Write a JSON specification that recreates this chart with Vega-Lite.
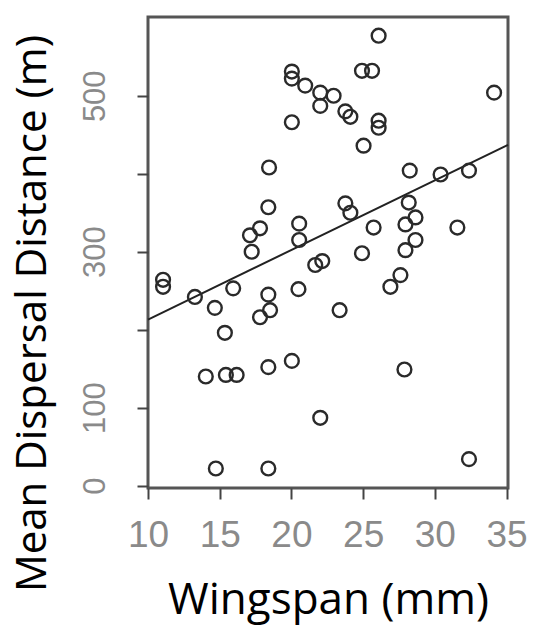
{
  "$schema": "https://vega.github.io/schema/vega-lite/v6.json",
  "autosize": {"type": "none"},
  "width": 360,
  "height": 471,
  "padding": {"left": 148, "top": 17, "right": 27, "bottom": 142},
  "background": "white",
  "config": {
    "view": {"stroke": "#555", "strokeWidth": 3},
    "axis": {"grid": false, "domain": false, "tickColor": "#444", "tickWidth": 2, "tickSize": 11,
             "labelColor": "#8a8a8a", "labelFont": "Liberation Sans", "titleColor": "#000",
             "titleFont": "Open Sans", "titleFontWeight": "normal"}
  },
  "datasets": {
    "pts": [
      {"wingspan": 11.05, "distance": 264}, {"wingspan": 11.05, "distance": 255},
      {"wingspan": 13.27, "distance": 242}, {"wingspan": 14.66, "distance": 228},
      {"wingspan": 15.94, "distance": 253}, {"wingspan": 15.36, "distance": 196},
      {"wingspan": 14.03, "distance": 140}, {"wingspan": 15.43, "distance": 142},
      {"wingspan": 16.18, "distance": 142}, {"wingspan": 14.73, "distance": 22},
      {"wingspan": 17.23, "distance": 300}, {"wingspan": 17.11, "distance": 321},
      {"wingspan": 17.81, "distance": 330}, {"wingspan": 18.44, "distance": 408},
      {"wingspan": 18.39, "distance": 357}, {"wingspan": 18.39, "distance": 245},
      {"wingspan": 18.51, "distance": 225}, {"wingspan": 17.81, "distance": 216},
      {"wingspan": 18.39, "distance": 152}, {"wingspan": 18.39, "distance": 22},
      {"wingspan": 20.03, "distance": 531}, {"wingspan": 20.03, "distance": 522},
      {"wingspan": 20.03, "distance": 466}, {"wingspan": 20.03, "distance": 160},
      {"wingspan": 20.54, "distance": 336}, {"wingspan": 20.54, "distance": 315},
      {"wingspan": 20.49, "distance": 252}, {"wingspan": 20.96, "distance": 513},
      {"wingspan": 22.01, "distance": 504}, {"wingspan": 22.01, "distance": 487},
      {"wingspan": 22.94, "distance": 500}, {"wingspan": 21.66, "distance": 283},
      {"wingspan": 22.15, "distance": 288}, {"wingspan": 22.01, "distance": 87},
      {"wingspan": 23.76, "distance": 480}, {"wingspan": 24.11, "distance": 473},
      {"wingspan": 23.76, "distance": 362}, {"wingspan": 24.11, "distance": 350},
      {"wingspan": 23.36, "distance": 225}, {"wingspan": 24.92, "distance": 532},
      {"wingspan": 25.62, "distance": 532}, {"wingspan": 26.08, "distance": 577},
      {"wingspan": 26.08, "distance": 468}, {"wingspan": 26.08, "distance": 459},
      {"wingspan": 25.03, "distance": 436}, {"wingspan": 25.73, "distance": 331},
      {"wingspan": 24.92, "distance": 298}, {"wingspan": 28.18, "distance": 363},
      {"wingspan": 28.65, "distance": 344}, {"wingspan": 27.95, "distance": 335},
      {"wingspan": 28.65, "distance": 315}, {"wingspan": 27.95, "distance": 302},
      {"wingspan": 27.6, "distance": 270}, {"wingspan": 26.9, "distance": 255},
      {"wingspan": 27.88, "distance": 149}, {"wingspan": 28.25, "distance": 404},
      {"wingspan": 30.4, "distance": 399}, {"wingspan": 32.38, "distance": 404},
      {"wingspan": 31.57, "distance": 331}, {"wingspan": 32.38, "distance": 34},
      {"wingspan": 34.13, "distance": 504}
    ],
    "fit": [
      {"wingspan": 10.0, "distance": 213},
      {"wingspan": 35.1, "distance": 437}
    ]
  },
  "encoding": {
    "x": {"field": "wingspan", "type": "quantitative",
          "scale": {"domain": [10, 35.1], "nice": false, "zero": false},
          "axis": {"values": [10, 15, 20, 25, 30, 35], "title": "Wingspan (mm)",
                   "labelFontSize": 37, "labelPadding": 18, "titleFontSize": 44, "titlePadding": 25,
                   "labelFlush": false}},
    "y": {"field": "distance", "type": "quantitative",
          "scale": {"domain": [-3, 601], "nice": false, "zero": false},
          "axis": {"values": [0, 100, 200, 300, 400, 500], "title": "Mean Dispersal Distance (m)",
                   "labelExpr": "datum.value == 200 || datum.value == 400 ? '' : datum.label",
                   "labelAngle": -90, "labelAlign": "center", "labelBaseline": "bottom",
                   "labelFontSize": 31, "labelPadding": 26, "titleFontSize": 42,
                   "titleX": -103, "titleY": 296, "titleAngle": -90, "titleAlign": "center",
                   "titleBaseline": "alphabetic",
                   "labelFlush": false}}
  },
  "layer": [
    {"data": {"name": "fit"}, "mark": {"type": "line", "color": "#222", "strokeWidth": 2}},
    {"data": {"name": "pts"}, "mark": {"type": "point", "shape": "circle", "filled": false,
      "size": 190, "stroke": "#2a2a2a", "strokeWidth": 2.4, "opacity": 1}}
  ]
}
